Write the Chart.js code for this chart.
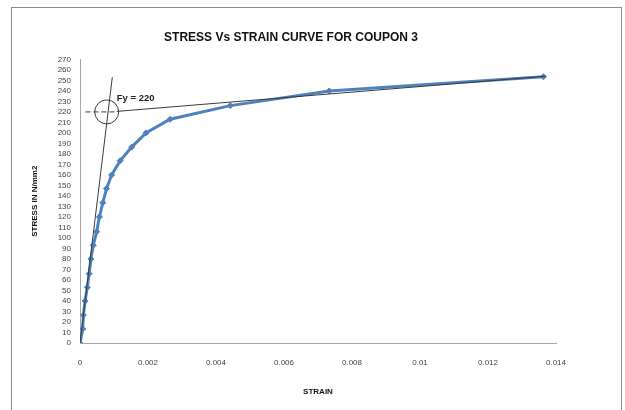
<!DOCTYPE html>
<html>
<head>
<meta charset="utf-8">
<script src="https://cdn.jsdelivr.net/npm/chart.js@4/dist/chart.umd.min.js"></script>
<style>
  html, body { margin: 0; padding: 0; background: #fff; }
  #wrap { position: relative; width: 625px; height: 410px; }
</style>
</head>
<body>
<div id="wrap"><canvas id="c" width="625" height="410"></canvas></div>
<script>
// ---- data ----
const strain = [0, 0.00008, 0.0001, 0.00015, 0.000215, 0.00027, 0.00032, 0.00039, 0.00049, 0.00057,
                0.00067, 0.00078, 0.00093, 0.00118, 0.00152, 0.00194, 0.00265, 0.00442, 0.00733, 0.01363];
const stress = [0, 13.3, 26.6, 40, 53, 66, 80, 93, 106, 120,
                133.5, 147, 160, 173.5, 186.5, 200, 213, 226, 240, 253.5];

// construction lines
const elasticStrain = [0, 0.00095];
const elasticStress = [0, 253];
const fyDashStrain = [0.00016, 0.00108];
const fyDashStress = [220, 220];
const tangentStrain = [0.00108, 0.0137];
const tangentStress = [220.5, 254];
const circleStrain = [0.000785];
const circleStress = [220];
const fyLabel = "Fy = 220";
const fyLabelStrain = 0.00108;
const fyLabelStress = 233;

const xTicks = [0, 0.002, 0.004, 0.006, 0.008, 0.01, 0.012, 0.014];
const yMax = 270, yStep = 10;

const toXY = (xs, ys) => xs.map((x, i) => ({x: x, y: ys[i]}));

const framePlugin = {
  id: 'frame',
  beforeDraw(chart) {
    const ctx = chart.ctx;
    ctx.save();
    ctx.fillStyle = '#fff';
    ctx.fillRect(0, 0, chart.width, chart.height);
    ctx.strokeStyle = '#8c8c8c';
    ctx.lineWidth = 1;
    ctx.strokeRect(11.5, 7.5, 610, 420);
    ctx.restore();
  }
};

const labelPlugin = {
  id: 'fyLabel',
  afterDatasetsDraw(chart) {
    const ctx = chart.ctx;
    const xs = chart.scales.x, ys = chart.scales.y;
    ctx.save();
    ctx.font = 'bold 9.5px "Liberation Sans", Arial, sans-serif';
    ctx.fillStyle = '#222';
    ctx.textAlign = 'left';
    ctx.textBaseline = 'middle';
    ctx.fillText(fyLabel, xs.getPixelForValue(fyLabelStrain), ys.getPixelForValue(fyLabelStress));
    ctx.restore();
  }
};

const tickFont = { family: '"Liberation Sans", Arial, sans-serif', size: 8 };

new Chart(document.getElementById('c'), {
  type: 'scatter',
  data: {
    datasets: [
      {
        label: 'elastic',
        data: toXY(elasticStrain, elasticStress),
        showLine: true, borderColor: '#3a3a3a', borderWidth: 1,
        pointRadius: 0, order: 1
      },
      {
        label: 'fy',
        data: toXY(fyDashStrain, fyDashStress),
        showLine: true, borderColor: '#3a3a3a', borderWidth: 1, borderDash: [5, 3],
        pointRadius: 0, order: 1
      },
      {
        label: 'tangent',
        data: toXY(tangentStrain, tangentStress),
        showLine: true, borderColor: '#3a3a3a', borderWidth: 1,
        pointRadius: 0, order: 1
      },
      {
        label: 'circle',
        data: toXY(circleStrain, circleStress),
        showLine: false, pointStyle: 'circle', pointRadius: 12,
        borderColor: '#3a3a3a', backgroundColor: 'rgba(0,0,0,0)', pointBorderWidth: 1,
        order: 0
      },
      {
        label: 'Coupon 3',
        data: toXY(strain, stress),
        showLine: true, borderColor: '#4f81bd', backgroundColor: '#4f81bd',
        borderWidth: 3, pointStyle: 'rectRot', pointRadius: 3,
        pointBackgroundColor: '#4f81bd', pointBorderColor: '#4f81bd', pointBorderWidth: 1,
        order: 2
      }
    ]
  },
  options: {
    responsive: false,
    animation: false,
    layout: { padding: { left: 26, right: 69, top: 20, bottom: 10 } },
    plugins: {
      legend: { display: false },
      tooltip: { enabled: false },
      title: {
        display: true,
        text: 'STRESS Vs STRAIN CURVE FOR COUPON 3',
        color: '#111',
        font: { family: '"Liberation Sans", Arial, sans-serif', size: 12, weight: 'bold' },
        padding: { top: 10, bottom: 15 }
      }
    },
    scales: {
      x: {
        type: 'linear', min: 0, max: 0.014,
        afterBuildTicks(scale) { scale.ticks = xTicks.map(v => ({ value: v })); },
        afterFit(scale) { scale.height = 57; },
        grid: { display: false, drawTicks: true, tickLength: 4, color: '#a6a6a6' },
        border: { display: true, color: '#a6a6a6' },
        ticks: { color: '#444', font: tickFont, padding: 11, maxRotation: 0,
                 callback: v => String(v) },
        title: { display: true, text: 'STRAIN', color: '#111',
                 font: { family: '"Liberation Sans", Arial, sans-serif', size: 8, weight: 'bold' },
                 padding: { top: 0, bottom: 3 } }
      },
      y: {
        type: 'linear', min: 0, max: yMax,
        afterFit(scale) { scale.width = 54; },
        grid: { display: false, drawTicks: true, tickLength: 4, color: '#a6a6a6' },
        border: { display: true, color: '#a6a6a6' },
        ticks: { color: '#444', font: tickFont, stepSize: yStep, padding: 5, autoSkip: false },
        title: { display: true, text: 'STRESS IN N/mm2', color: '#111',
                 font: { family: '"Liberation Sans", Arial, sans-serif', size: 8, weight: 'bold' },
                 padding: { top: 4, bottom: 0 } }
      }
    }
  },
  plugins: [framePlugin, labelPlugin]
});
</script>
</body>
</html>
